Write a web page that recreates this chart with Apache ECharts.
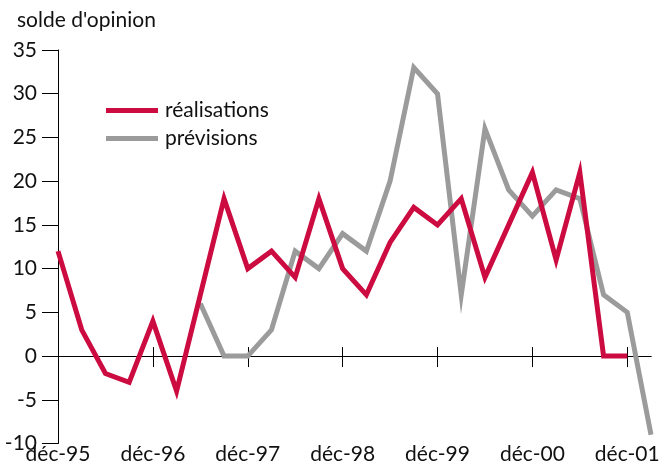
<!DOCTYPE html>
<html><head><meta charset="utf-8">
<script src="https://cdn.jsdelivr.net/npm/echarts@6/dist/echarts.min.js"></script>
<style>html,body{margin:0;padding:0;background:#fff}#c{width:667px;height:465px}</style>
</head><body><div id="c"></div>
<script>
const categories = ['déc-95','mars-96','juin-96','sept-96','déc-96','mars-97','juin-97','sept-97','déc-97','mars-98','juin-98','sept-98','déc-98','mars-99','juin-99','sept-99','déc-99','mars-00','juin-00','sept-00','déc-00','mars-01','juin-01','sept-01','déc-01','mars-02'];
const realisations = [12, 3, -2, -3, 4, -4, 7, 18, 10, 12, 9, 18, 10, 7, 13, 17, 15, 18, 9, 15, 21, 11, 21, 0, 0, null];
const previsions = [null, null, null, null, null, null, 6, 0, 0, 3, 12, 10, 14, 12, 20, 33, 30, 7, 26, 19, 16, 19, 18, 7, 5, -9];
const yTicks = { min: -10, max: 35, interval: 5 };
const seriesNames = ['réalisations', 'prévisions'];

const FONT = 'Lato';
const FS = 21;
const gridRect = { left: 58, right: 16, top: 50, bottom: 21.5 };
const g = () => Object.assign({}, gridRect);
const chart = echarts.init(document.getElementById('c'), null, { renderer: 'canvas' });
const hiddenY = (i) => ({ type: 'value', gridIndex: i, min: yTicks.min, max: yTicks.max, interval: yTicks.interval,
  axisLine: { show: false }, axisTick: { show: false }, axisLabel: { show: false }, splitLine: { show: false } });
chart.setOption({
  animation: false,
  backgroundColor: '#fff',
  title: { text: "solde d'opinion", left: 12, top: 5, textStyle: { fontFamily: FONT, fontSize: FS, fontWeight: 'normal', color: '#111' } },
  legend: {
    data: seriesNames, orient: 'vertical', left: 101, top: 95, icon: 'rect', itemWidth: 52, itemHeight: 5, itemGap: 7,
    textStyle: { fontFamily: FONT, fontSize: FS, color: '#111', padding: [0, 0, 0, 2] }
  },
  grid: [g(), g(), g()],
  xAxis: [
    { type: 'category', gridIndex: 0, data: categories, boundaryGap: false, position: 'bottom',
      axisLine: { show: true, onZero: true, lineStyle: { color: '#000', width: 1 } },
      axisTick: { show: true, interval: 3, length: 11, inside: false, lineStyle: { color: '#000', width: 1 } },
      axisLabel: { show: false }, splitLine: { show: false } },
    { type: 'category', gridIndex: 1, data: categories, boundaryGap: false, position: 'top',
      axisLine: { show: true, onZero: true, lineStyle: { color: '#000', width: 1 } },
      axisTick: { show: true, interval: 3, length: 9, inside: false, lineStyle: { color: '#000', width: 1 } },
      axisLabel: { show: false }, splitLine: { show: false } },
    { type: 'category', gridIndex: 2, data: categories, boundaryGap: false, position: 'bottom',
      axisLine: { show: false, onZero: false }, axisTick: { show: false },
      axisLabel: { interval: 3, margin: 2, fontFamily: FONT, fontSize: FS, color: '#111' }, splitLine: { show: false } }
  ],
  yAxis: [
    { type: 'value', gridIndex: 0, min: yTicks.min, max: yTicks.max, interval: yTicks.interval,
      axisLine: { show: true, onZero: false, lineStyle: { color: '#000', width: 1 } },
      axisTick: { show: true, length: 16, lineStyle: { color: '#000' } },
      axisLabel: { margin: 21, fontFamily: FONT, fontSize: FS, color: '#111' }, splitLine: { show: false } },
    hiddenY(1), hiddenY(2)
  ],
  series: [
    { name: seriesNames[1], type: 'line', xAxisIndex: 0, yAxisIndex: 0, data: previsions, showSymbol: false, symbol: 'none',
      color: '#9b9b9b', lineStyle: { width: 5, color: '#9b9b9b', cap: 'butt', join: 'miter' }, z: 5 },
    { name: seriesNames[0], type: 'line', xAxisIndex: 0, yAxisIndex: 0, data: realisations, showSymbol: false, symbol: 'none',
      color: '#cc0c40', lineStyle: { width: 5, color: '#cc0c40', cap: 'butt', join: 'miter' }, z: 6 }
  ]
});
</script></body></html>
